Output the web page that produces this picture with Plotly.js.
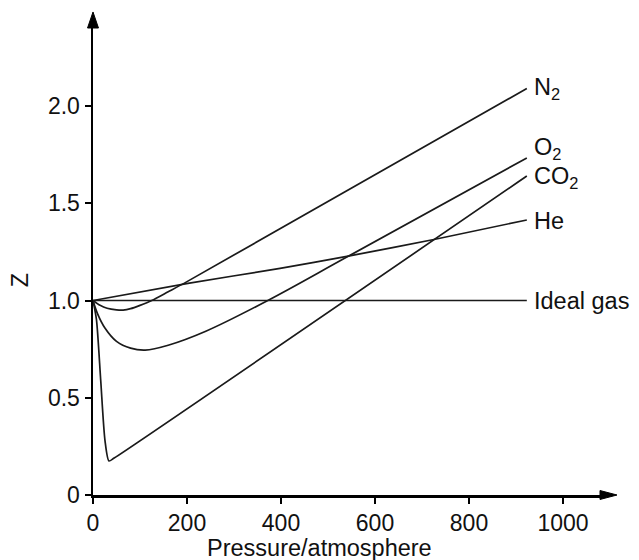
<!DOCTYPE html>
<html>
<head>
<meta charset="utf-8">
<script src="https://cdn.plot.ly/plotly-3.0.1.min.js"></script>
<style>html,body{margin:0;padding:0;background:#fff;}#chart{width:639px;height:560px;}</style>
</head>
<body>
<div id="chart"></div>
<script>
// Pressure (atm) and compressibility factor Z
const n2P  = [0, 15, 30, 50, 64, 80, 100, 125, 160, 200, 923];
const n2Z  = [1.0, 0.975, 0.96, 0.952, 0.951, 0.958, 0.975, 1.0, 1.045, 1.097, 2.09];
const o2P  = [0, 10, 25, 50, 80, 111, 160, 240, 372, 543, 923];
const o2Z  = [1.0, 0.93, 0.86, 0.79, 0.755, 0.745, 0.77, 0.842, 1.0, 1.227, 1.733];
const co2P = [0, 7.4, 16.4, 25.5, 34, 45, 923];
const co2Z = [1.0, 0.90, 0.59, 0.28, 0.175, 0.19, 1.64];
const heP  = [0, 202, 398, 543, 728, 923];
const heZ  = [1.0, 1.088, 1.165, 1.228, 1.315, 1.414];
const idealP = [0, 923];
const idealZ = [1.0, 1.0];
const labelX = 935;
const labels = ["N<sub>2</sub>", "O<sub>2</sub>", "CO<sub>2</sub>", "He", "Ideal gas"];
const labelY = [2.09, 1.78, 1.63, 1.41, 1.0];
const xTicks = [0, 200, 400, 600, 800, 1000];
const yTickVals = [0, 0.5, 1.0, 1.5, 2.0];
const yTickText = ["0", "0.5", "1.0", "1.5", "2.0"];

const lineStyle = {color: '#1a1a1a', width: 1.7, shape: 'spline', smoothing: 0.7};
const mk = (x, y, s) => ({x: x, y: y, type: 'scatter', mode: 'lines',
  line: Object.assign({}, lineStyle, s ? {smoothing: s} : {}), hoverinfo: 'skip', cliponaxis: false});
const data = [mk(n2P, n2Z), mk(o2P, o2Z, 1.0), mk(co2P, co2Z), mk(heP, heZ),
  {x: idealP, y: idealZ, type: 'scatter', mode: 'lines', line: {color: '#1a1a1a', width: 1.7}, hoverinfo: 'skip'}];

const tickFont = {family: 'Liberation Sans, Arial, sans-serif', size: 23, color: '#111'};
const font = {family: 'Liberation Sans, Arial, sans-serif', size: 23.5, color: '#111'};
const annotations = labels.map((t, i) => ({
  x: labelX, y: labelY[i], xref: 'x', yref: 'y', text: t, showarrow: false,
  xanchor: 'left', yanchor: 'middle', font: font
}));
annotations.push({x: 0.447, y: -0.113, xref: 'paper', yref: 'paper', text: 'Pressure/atmosphere',
  showarrow: false, xanchor: 'center', yanchor: 'middle', font: font});
annotations.push({x: -0.144, y: 0.46, xref: 'paper', yref: 'paper', text: 'Z', textangle: -90,
  showarrow: false, xanchor: 'center', yanchor: 'middle', font: font});

const layout = {
  width: 639, height: 560,
  margin: {l: 93, r: 39, t: 28, b: 65},
  paper_bgcolor: '#fff', plot_bgcolor: '#fff',
  showlegend: false,
  font: font,
  xaxis: {range: [0, 1078.7], showgrid: false, zeroline: false, showline: true, linecolor: '#000', linewidth: 2.5,
    ticks: 'outside', ticklen: 6, tickwidth: 2, tickcolor: '#000', tickvals: xTicks, tickfont: tickFont, fixedrange: true},
  yaxis: {range: [0, 2.401], showgrid: false, zeroline: false, showline: true, linecolor: '#000', linewidth: 2.5,
    ticks: 'outside', ticklen: 6, tickwidth: 2, tickcolor: '#000', tickvals: yTickVals, ticktext: yTickText,
    tickfont: tickFont, fixedrange: true},
  shapes: [
    {type: 'path', xref: 'paper', yref: 'paper', path: 'M -0.0108 1.0 L 0 1.0343 L 0.0108 1.0 Z', fillcolor: '#000', line: {color: '#000', width: 1}},
    {type: 'path', xref: 'paper', yref: 'paper', path: 'M 1.0 0.0096 L 1.0335 0 L 1.0 -0.0096 Z', fillcolor: '#000', line: {color: '#000', width: 1}}
  ],
  annotations: annotations
};
Plotly.newPlot('chart', data, layout, {displayModeBar: false, staticPlot: true});
</script>
</body>
</html>
